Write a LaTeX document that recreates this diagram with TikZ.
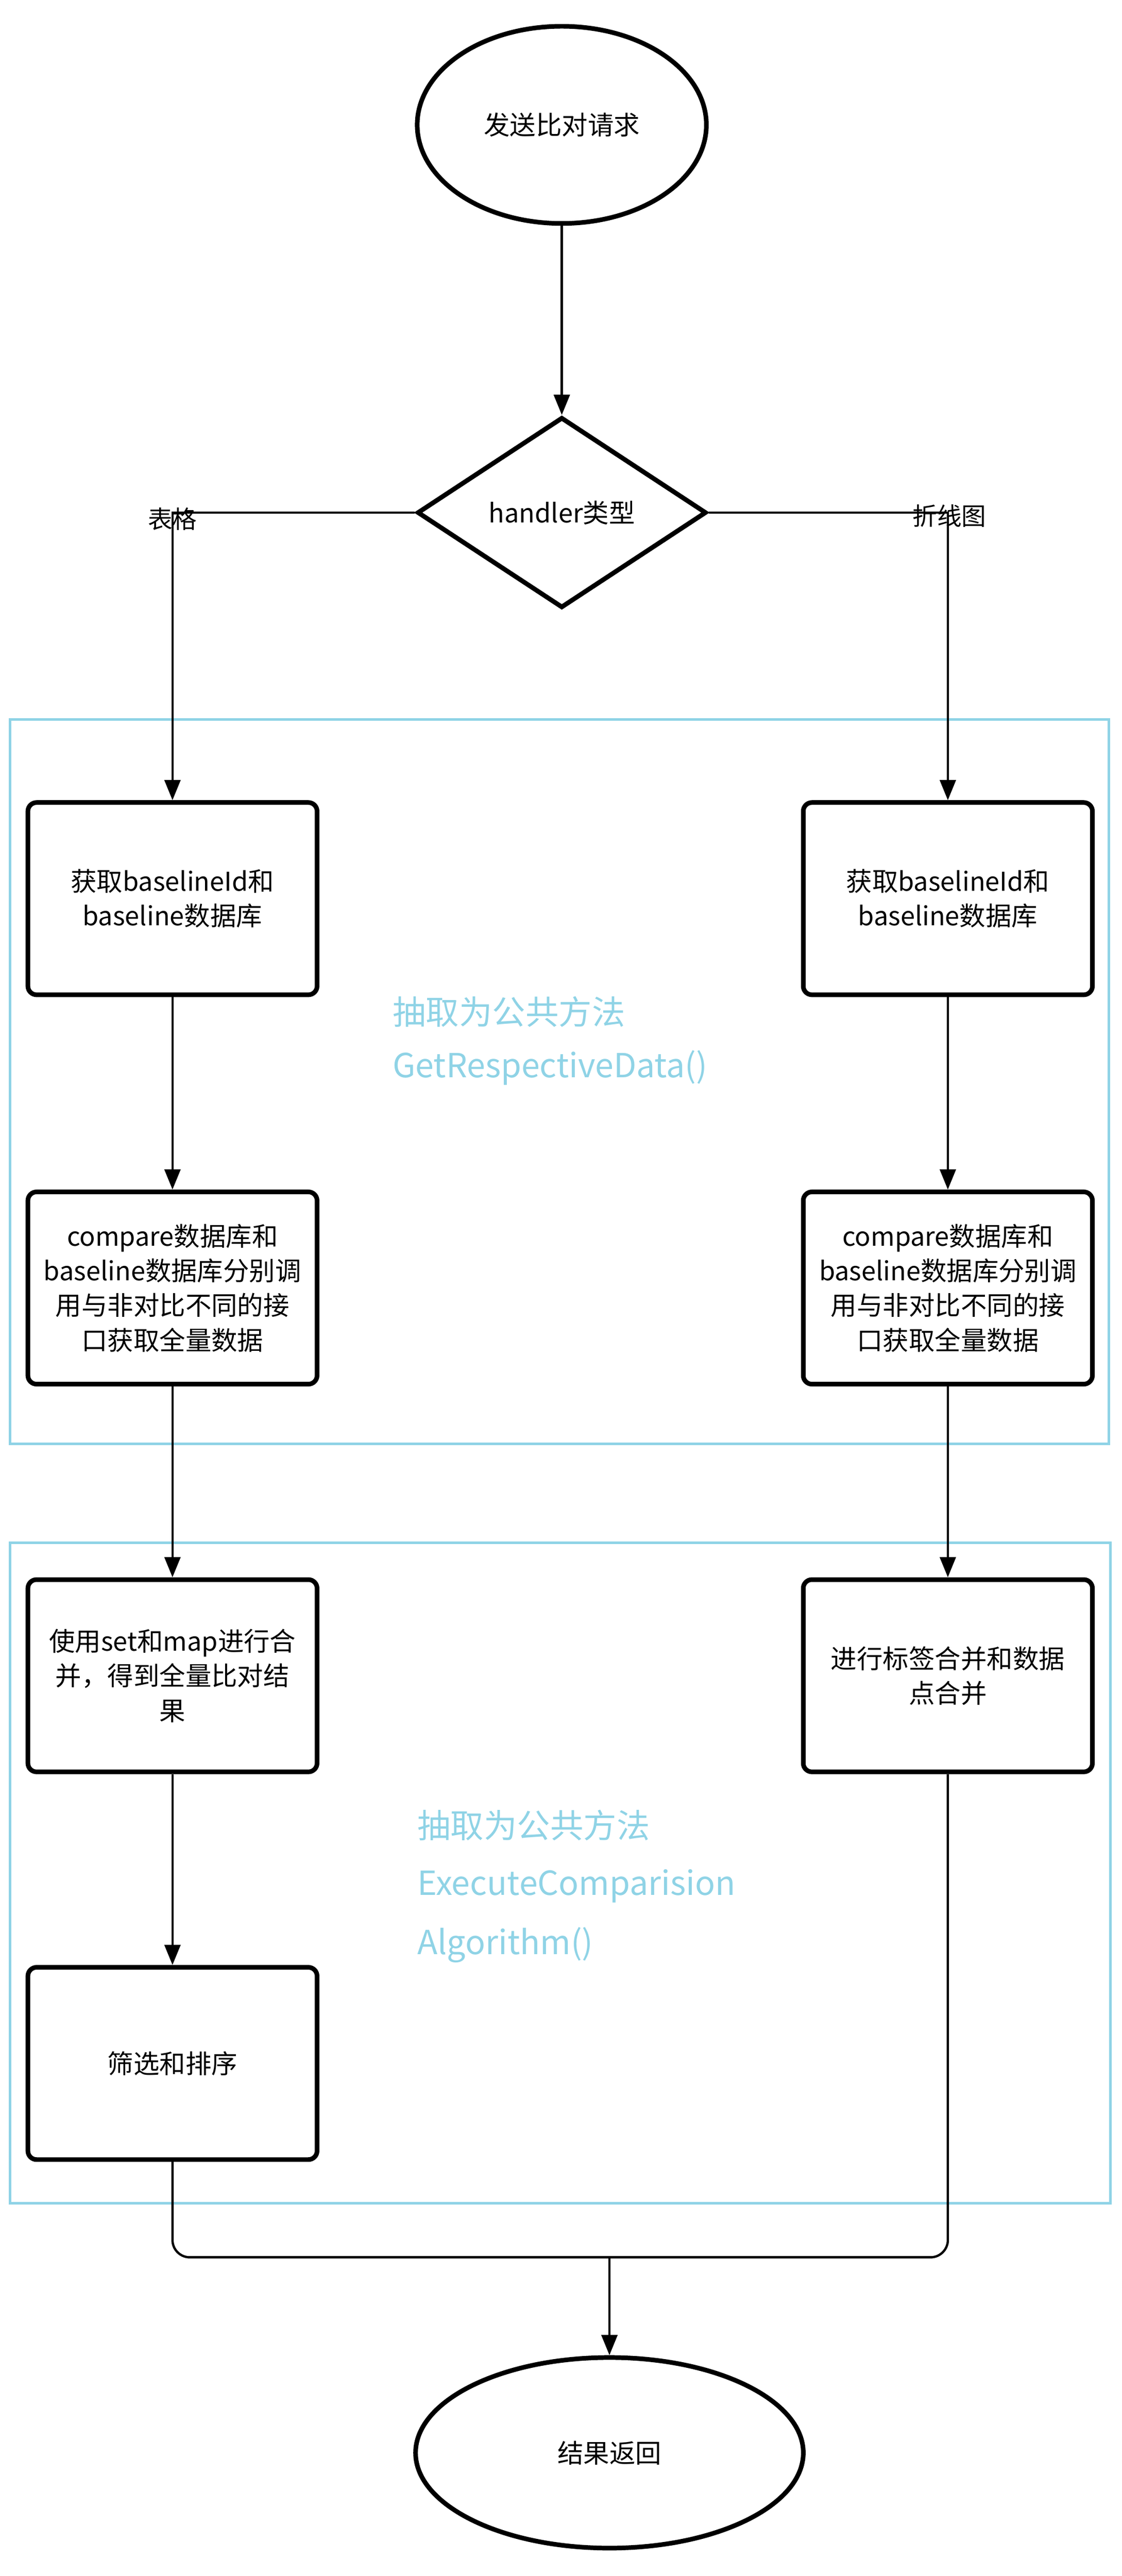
\documentclass[tikz,border=0pt]{standalone}
\usepackage{fontspec}
\setmainfont{Noto Sans CJK SC}
\usetikzlibrary{shapes.geometric,arrows.meta}
\definecolor{cy}{HTML}{8FD3E6}
\begin{document}
\begin{tikzpicture}[x=0.04cm,y=-0.04cm,
 box/.style={draw,line width=3.2pt,rounded corners=6pt,minimum width=7.04cm,minimum height=4.68cm,align=center,font=\fontsize{18}{24}\selectfont},
 conn/.style={line width=1.6pt,-{Triangle[length=14pt,width=11pt]}},
 grp/.style={draw=cy,line width=1.8pt},
 note/.style={text=cy,anchor=west,font=\fontsize{23}{28}\selectfont}]
\useasboundingbox (0,0) rectangle (683,1568);
\node[draw,ellipse,line width=3.2pt,minimum width=7.04cm,minimum height=4.8cm,font=\fontsize{18}{24}\selectfont] (start) at (342,76) {发送比对请求};
\node[draw,diamond,line width=3.2pt,minimum width=7.04cm,minimum height=4.64cm,aspect=1.5,inner sep=0pt,font=\fontsize{18}{24}\selectfont] (dec) at (342,312) {handler类型};
\draw[grp] (6,438) rectangle (675,879);
\draw[grp] (6,939) rectangle (676,1341);
\node[box] (l1) at (105,547) {获取baselineId和\\baseline数据库};
\node[box] (r1) at (577,547) {获取baselineId和\\baseline数据库};
\node[box] (l2) at (105,784) {compare数据库和\\baseline数据库分别调\\用与非对比不同的接\\口获取全量数据};
\node[box] (r2) at (577,784) {compare数据库和\\baseline数据库分别调\\用与非对比不同的接\\口获取全量数据};
\node[box] (l3) at (105,1020) {使用set和map进行合\\并，得到全量比对结\\果};
\node[box] (r3) at (577,1020) {进行标签合并和数据\\点合并};
\node[box] (l4) at (105,1256) {筛选和排序};
\node[draw,ellipse,line width=3.2pt,minimum width=9.44cm,minimum height=4.64cm,font=\fontsize{18}{24}\selectfont] (end) at (371,1493) {结果返回};
\node[note] (n1) at (236,616) {抽取为公共方法};
\node[note] (n2) at (236,650) {GetRespectiveData()};
\node[note] (n3) at (251,1111) {抽取为公共方法};
\node[note] (n4) at (251,1148) {ExecuteComparision};
\node[note] (n5) at (251,1184) {Algorithm()};
\node[font=\fontsize{17}{20}\selectfont] (t1) at (105,316) {表格};
\node[font=\fontsize{17}{20}\selectfont] (t2) at (578,314) {折线图};
\draw[conn] (start) -- (dec);
\draw[conn] (dec.west) -| (l1.north);
\draw[conn] (dec.east) -| (r1.north);
\draw[conn] (l1) -- (l2);
\draw[conn] (r1) -- (r2);
\draw[conn] (l2) -- (l3);
\draw[conn] (r2) -- (r3);
\draw[conn] (l3) -- (l4);
\coordinate (m) at (371,1374);
\draw[line width=1.6pt,rounded corners=12pt] (l4.south) |- (m);
\draw[line width=1.6pt,rounded corners=12pt] (r3.south) |- (m);
\draw[conn] (m) -- (end.north);
\end{tikzpicture}
\end{document}
